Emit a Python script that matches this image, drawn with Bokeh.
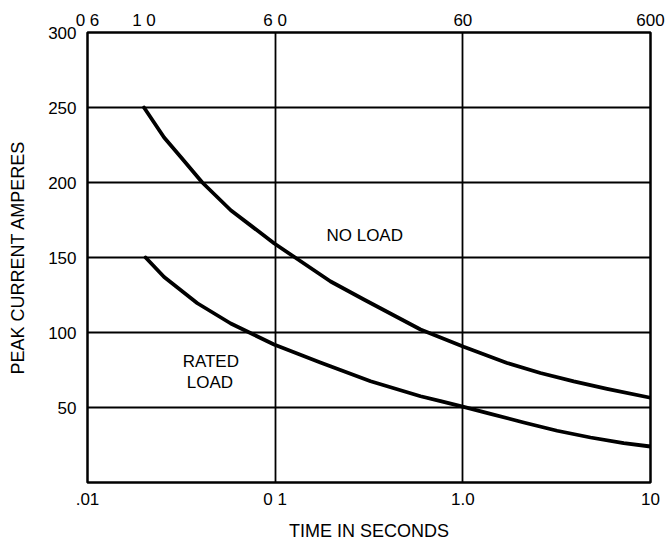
from bokeh.plotting import figure
from bokeh.models import LogAxis, FixedTicker, Range1d, Label
from bokeh.embed import file_html
from bokeh.resources import INLINE

# Data
no_load_t = [0.0200, 0.0256, 0.0314, 0.0409, 0.058, 0.0986, 0.126, 0.1975, 0.297, 0.595, 1.01, 1.72, 2.59, 3.90, 5.87, 10.0]
no_load_a = [250, 230, 217, 200, 181.5, 159.5, 150.5, 134, 122, 102, 90.5, 79.7, 73, 67.4, 62.4, 56.5]

rated_t = [0.0204, 0.0256, 0.0385, 0.058, 0.0771, 0.0986, 0.174, 0.3224, 0.595, 0.761, 1.01, 1.405, 2.11, 3.18, 4.79, 7.20, 10.0]
rated_a = [150, 137, 119.5, 106, 98.5, 92, 80, 67.5, 57.5, 54.2, 50.4, 45.8, 40, 34.5, 30, 26.3, 24]

bottom_ticks = [0.01, 0.1, 1.0, 10.0]
bottom_labels = [".01", "0 1", "1.0", "10"]
top_ticks = [0.01, 0.02, 0.1, 1.0, 10.0]
top_labels = ["0 6", "1 0", "6 0", "60", "600"]
y_ticks = [50, 100, 150, 200, 250, 300]
grid_x = [0.1, 1.0]

FONT = "Liberation Sans"

p = figure(width=667, height=543, x_axis_type="log",
           x_range=Range1d(0.01, 10), y_range=Range1d(0, 300),
           output_backend="svg", toolbar_location=None,
           min_border_left=87, min_border_right=17,
           min_border_top=32, min_border_bottom=60,
           background_fill_color="white", border_fill_color="white")

p.outline_line_color = "black"
p.outline_line_width = 2.5

# grids
p.ygrid.ticker = FixedTicker(ticks=y_ticks)
p.ygrid.grid_line_color = "black"
p.ygrid.grid_line_width = 2
p.xgrid.ticker = FixedTicker(ticks=grid_x)
p.xgrid.grid_line_color = "black"
p.xgrid.grid_line_width = 1.8

def style_axis(ax):
    ax.axis_line_color = None
    ax.major_tick_in = 0
    ax.major_tick_out = 0
    ax.minor_tick_in = 0
    ax.minor_tick_out = 0
    ax.major_tick_line_color = None
    ax.minor_tick_line_color = None
    ax.major_label_text_font = FONT
    ax.major_label_text_font_size = "17px"
    ax.major_label_text_color = "black"
    ax.axis_label_text_font = FONT
    ax.axis_label_text_font_size = "18px"
    ax.axis_label_text_font_style = "normal"
    ax.axis_label_text_color = "black"

# bottom axis
xa = p.xaxis[0]
xa.ticker = FixedTicker(ticks=bottom_ticks)
xa.major_label_overrides = {t: l for t, l in zip(bottom_ticks, bottom_labels)}
xa.axis_label = "TIME IN SECONDS"
style_axis(xa)
xa.major_label_standoff = 7
xa.axis_label_standoff = 9

# left axis
ya = p.yaxis[0]
ya.ticker = FixedTicker(ticks=y_ticks)
ya.axis_label = "PEAK CURRENT AMPERES"
style_axis(ya)
ya.major_label_standoff = 11
ya.axis_label_standoff = 17

# top axis (cycles)
top = LogAxis(ticker=FixedTicker(ticks=top_ticks))
top.major_label_overrides = {t: l for t, l in zip(top_ticks, top_labels)}
style_axis(top)
top.major_label_standoff = 3
p.add_layout(top, "above")

# curves
p.line(no_load_t, no_load_a, line_color="black", line_width=3.8, line_join="round", line_cap="round")
p.line(rated_t, rated_a, line_color="black", line_width=3.8, line_join="round", line_cap="round")

# annotations
for txt, x, y in [("NO LOAD", 0.30, 165), ("RATED", 0.0454, 80.5), ("LOAD", 0.0449, 66.6)]:
    p.add_layout(Label(x=x, y=y, text=txt, text_align="center", text_baseline="middle",
                       text_font=FONT, text_font_size="17px", text_color="black"))

open("out.html", "w").write(file_html(p, INLINE))
